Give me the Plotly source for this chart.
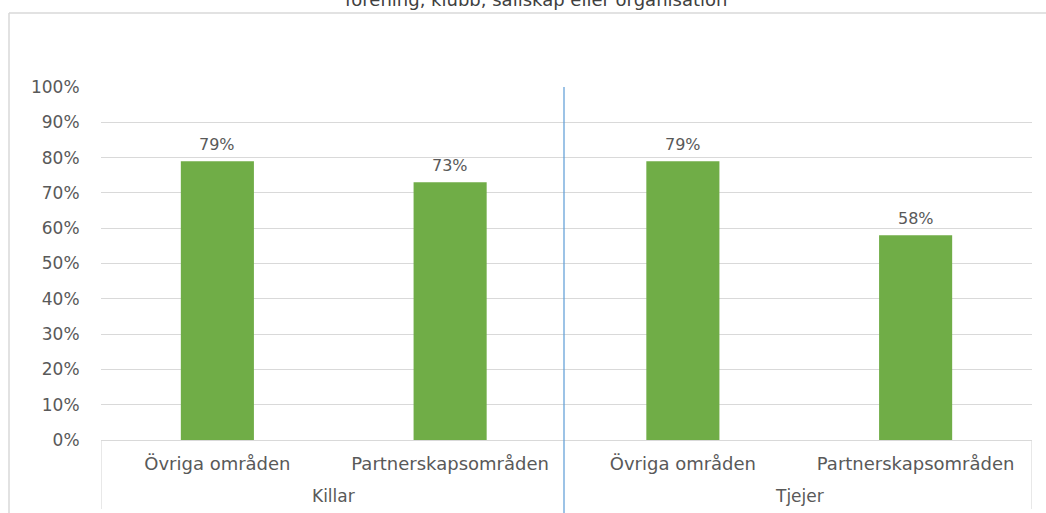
import plotly.graph_objects as go

groups = ["Killar", "Tjejer"]
categories = ["Övriga områden", "Partnerskapsområden", "Övriga områden", "Partnerskapsområden"]
values = [0.79, 0.73, 0.79, 0.58]
labels = ["79%", "73%", "79%", "58%"]
title_text = "förening, klubb, sällskap eller organisation"

W, H = 1046, 513
L, R, T, B = 101, 14, 87, 73
pw, ph = W - L - R, H - T - B

def px_x(x):
    return (x - L) / pw

def px_y(y):
    return (H - B - y) / ph

xpos = list(range(len(categories)))

fig = go.Figure()
fig.add_trace(go.Bar(
    x=xpos,
    y=values,
    marker=dict(color="#70AD47", line=dict(width=0)),
    hoverinfo="skip",
))

fig.update_layout(
    width=W, height=H,
    margin=dict(l=L, r=R, t=T, b=B),
    paper_bgcolor="white",
    plot_bgcolor="white",
    bargap=0.686,
    showlegend=False,
    font=dict(family="DejaVu Sans", color="#595959"),
    xaxis=dict(
        range=[-0.5, len(categories) - 0.5],
        tickvals=xpos, ticktext=categories,
        showline=True, linecolor="#d9d9d9", linewidth=1,
        showgrid=False, zeroline=False,
        ticks="outside", ticklen=7, tickcolor="rgba(0,0,0,0)",
        tickfont=dict(family="DejaVu Sans", size=18, color="#595959"),
    ),
    yaxis=dict(
        range=[0, 1],
        tickvals=[i / 10 for i in range(11)],
        tickformat=".0%",
        showgrid=True, gridcolor="#d9d9d9", gridwidth=1,
        zeroline=False, showline=False,
        ticks="outside", ticklen=17, tickcolor="rgba(0,0,0,0)",
        tickfont=dict(family="DejaVu Sans", size=17, color="#595959"),
    ),
)

# value labels
for xi, v, lab in zip(xpos, values, labels):
    fig.add_annotation(x=xi, y=v, text=lab, showarrow=False,
                       xanchor="center", yanchor="middle", yshift=17,
                       font=dict(family="DejaVu Sans", size=16, color="#595959"))

# group labels
for gi, g in enumerate(groups):
    fig.add_annotation(x=gi * 2 + 0.5, y=px_y(496), xref="x", yref="paper",
                       text=g, showarrow=False, xanchor="center", yanchor="middle",
                       font=dict(family="DejaVu Sans", size=17, color="#595959"))

# category dividers
for xd in [-0.5, len(categories) - 0.5]:
    fig.add_shape(type="line", xref="x", yref="paper",
                  x0=xd, x1=xd, y0=0, y1=px_y(509),
                  line=dict(color="#d9d9d9", width=1.2))

# outer chart frame (partially visible)
fig.add_shape(type="line", xref="paper", yref="paper",
              x0=px_x(9), x1=px_x(1100), y0=px_y(13), y1=px_y(13),
              line=dict(color="#d9d9d9", width=1.5))
fig.add_shape(type="line", xref="paper", yref="paper",
              x0=px_x(9), x1=px_x(9), y0=px_y(13), y1=px_y(600),
              line=dict(color="#d9d9d9", width=1.5))
# blue separator line between groups
fig.add_shape(type="line", xref="paper", yref="paper",
              x0=px_x(564), x1=px_x(564), y0=1, y1=px_y(600),
              line=dict(color="#5b9bd5", width=1.2))

fig.add_annotation(text=title_text, xref="paper", yref="paper",
                   x=px_x(536), y=px_y(0), xanchor="center", yanchor="middle",
                   showarrow=False,
                   font=dict(family="DejaVu Sans", size=18, color="#404040"))

fig.write_html("out.html", config={"displayModeBar": False},
               post_script="document.body.style.margin='0';")
